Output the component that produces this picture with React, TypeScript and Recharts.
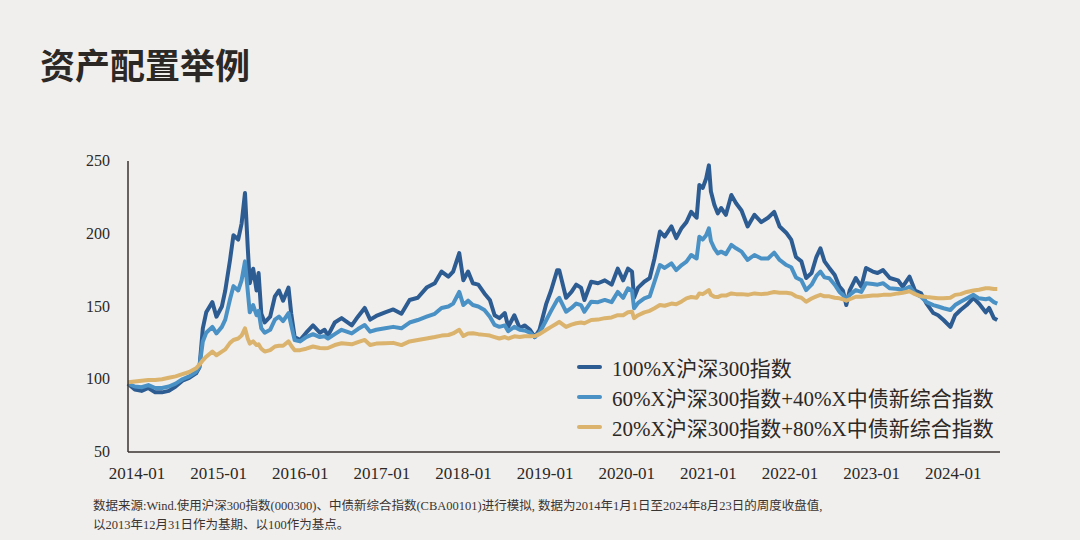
import React from 'react';
import { LineChart, Line, XAxis, YAxis, Legend } from 'recharts';

// months since 2014-01 (weekly closes, sampled at turning points)
const months = [
  0, 1, 2, 3, 4, 5, 6, 7, 8, 9, 10, 10.5, 11, 11.5, 12.4, 13.0, 13.8, 14.3, 15.0, 15.5,
  16.2, 16.7, 17.2, 17.6, 17.9, 18.4, 18.9, 19.2, 19.6, 20.1, 20.9, 21.6, 22.2, 22.8, 23.6, 24.0,
  24.5, 25.3, 26.2, 27.2, 28.2, 28.9, 29.4, 30.4, 31.4, 32.9, 33.8, 34.8, 35.6, 36.5, 37.8, 39.0,
  40.2, 41.4, 42.6, 43.9, 45.1, 46.1, 47.1, 47.8, 48.7, 49.3, 50.0, 50.7, 51.5, 52.4, 53.2, 53.9,
  54.6, 55.4, 55.9, 56.8, 57.6, 58.3, 59.1, 59.8, 60.5, 61.5, 62.2, 63.1, 63.4, 64.4, 65.2, 65.9,
  66.6, 67.1, 68.1, 69.1, 70.1, 71.1, 72.0, 72.8, 73.5, 74.1, 74.4, 75.0, 75.9, 76.7, 77.4, 78.2,
  78.9, 79.9, 80.6, 81.4, 82.1, 82.8, 83.6, 84.0, 84.5, 85.0, 85.4, 85.7, 86.2, 86.7, 87.2, 87.9,
  88.7, 89.4, 90.2, 91.1, 92.1, 93.1, 94.1, 95.0, 95.8, 96.8, 97.5, 98.2, 99.0, 99.7, 100.5, 101.2,
  101.8, 102.4, 103.1, 103.9, 104.6, 105.1, 105.6, 106.1, 107.0, 107.8, 108.5, 109.5, 110.2, 111.0, 112.0, 113.2,
  113.9, 114.9, 115.7, 116.6, 117.4, 118.4, 119.1, 119.9, 120.9, 121.6, 122.4, 123.3, 124.3, 125.1, 126.1, 126.6,
  127.3, 127.8,
];

const eq100 = [
  97, 93, 92, 94, 91, 91, 92, 95, 99, 101, 104, 108, 135, 146, 153, 143, 150, 161, 182, 199,
  196, 207, 228, 191, 166, 176, 161, 173, 145, 139, 143, 157, 161, 154, 163, 145,
  129, 127, 132, 137, 132, 134, 130, 139, 142, 137, 143, 149, 141, 143.5, 146, 148,
  145, 154.5, 156, 163, 166, 174, 170.5, 174, 186.7, 168, 174, 166, 165, 159, 154.5, 144,
  142, 145.5, 136, 144, 135, 137, 134, 129, 134, 152, 161, 175, 175, 156, 160, 165,
  163, 154.5, 167, 166, 168, 165, 176, 168, 176, 174, 156, 163, 167, 169.5, 183, 201.5,
  198, 205, 197, 204, 208, 215, 211, 233.5, 231.5, 238, 247, 229, 220, 214, 217.7, 213,
  226.6, 221, 216, 205, 213, 208, 211, 215, 205, 200.5, 196, 184, 181, 169.6, 173, 184,
  190, 181, 176.5, 171.6, 163.6, 161, 151, 161, 169.6, 163.6, 176.5, 174, 173, 175, 169.6, 168,
  163.6, 170.5, 161, 159, 152, 145.5, 144, 140.7, 136, 144, 147.6, 151, 156, 152, 146, 149,
  142, 140.7,
];

const mix60 = [
  97, 95, 94.5, 96, 94, 94, 95, 97, 100, 102, 105, 108.5, 126, 132, 136, 131.5, 136, 141, 155, 164,
  161, 168, 181, 161, 146, 151, 144, 147, 135, 132, 134, 141, 143, 140, 145.5, 137,
  127, 126, 129, 131, 129, 129.5, 128, 131, 134, 131.5, 134.5, 137.3, 132.7, 134, 135, 136,
  135, 139, 140.7, 143, 145, 149, 150, 152, 160, 151, 154, 151, 150, 147.6, 143, 137.3,
  136, 137, 133, 136, 134, 133.5, 132, 129, 132, 140.7, 147, 154.5, 156, 146.4, 149, 152,
  151, 146.4, 153.3, 153, 154.5, 153, 160, 156, 162.5, 161, 148.8, 152.5, 155.6, 157, 167, 178.5,
  176.5, 179.7, 175, 178.5, 180.8, 185.4, 183, 198, 196, 199, 203.7, 195, 190, 186.5, 187.7, 186,
  192.3, 190, 187.7, 182, 185.4, 183, 183, 187, 182, 178.5, 177, 170, 168, 161.3, 165, 171,
  174, 170, 169.4, 165, 160, 158, 154.5, 158, 161.3, 160, 166, 165.5, 165, 166, 162.5, 162,
  161.3, 163.6, 159, 156.7, 153, 151, 150, 148.8, 147.6, 151, 153.3, 155.5, 158, 155.6, 155, 155.6,
  153, 152,
];

const mix20 = [
  98, 98.5, 99, 99.5, 99.5, 100, 101, 102, 103.5, 105, 107.5, 110, 113, 115.5, 119, 116.5, 119, 120.5, 125, 127,
  128, 130, 135, 128, 124.5, 126, 123.5, 124, 121, 119, 120, 122.5, 123, 123, 126, 123,
  120, 120, 121, 122.5, 121.5, 121.3, 121.5, 123.5, 124.7, 124, 125.5, 127, 123.5, 124.5, 124.7, 125,
  123.5, 126, 127, 128, 129, 130, 130.4, 131.5, 134, 129.7, 131.5, 131.6, 131, 130.5, 130, 129,
  128, 129, 128, 129.5, 129, 129.5, 129.5, 129.7, 131, 134, 136, 138.5, 139.5, 136, 137.5, 138.5,
  139, 138.5, 140.7, 141, 142, 142.5, 144, 144, 146, 146.4, 142, 144, 146, 147, 148.8, 151,
  150.5, 152, 151.5, 153.5, 155.6, 156.5, 156, 159, 158.5, 160, 161.3, 158, 156.7, 156.5, 157.5, 157.5,
  159, 158.5, 158.5, 158, 159, 158.5, 159, 160, 159.5, 159.5, 159, 157, 156, 153.3, 155.5, 157,
  158, 157, 157, 156, 155.6, 155, 154, 155, 156.7, 156.7, 157, 157.5, 157.5, 158, 158, 159,
  159.5, 160.5, 158.5, 157, 156.5, 156, 155.6, 155.6, 156, 158, 158.5, 160, 161, 161.5, 162.5, 162.5,
  162, 162,
];

const seriesNames = [
  '100%X沪深300指数',
  '60%X沪深300指数+40%X中债新综合指数',
  '20%X沪深300指数+80%X中债新综合指数',
];
const seriesColors = ['#2d5c92', '#4a91c5', '#dbb36c'];

const xTicks = [0, 12, 24, 36, 48, 60, 72, 84, 96, 108, 120];
const yTicks = [50, 100, 150, 200, 250];

const data = months.map((m, i) => ({ m, a: eq100[i], b: mix60[i], c: mix20[i] }));

const serif = '"Liberation Serif", "Noto Sans CJK SC", serif';
const ink = '#2c2825';

const XTick = (props: any) => {
  const { x, y, payload } = props;
  const label = `${2014 + payload.value / 12}-01`;
  return (
    <text x={x + 9} y={y + 25} textAnchor="middle" fill={ink} fontSize={17} fontFamily={serif}>
      {label}
    </text>
  );
};

const YTick = (props: any) => {
  const { x, y, payload } = props;
  return (
    <text x={x - 16} y={y + 5} textAnchor="end" fill={ink} fontSize={16} fontFamily={serif}>
      {payload.value}
    </text>
  );
};

const renderLegend = () => (
  <div style={{ fontFamily: serif, fontSize: 21, color: ink }}>
    {seriesNames.map((name, i) => (
      <div key={name} style={{ display: 'flex', alignItems: 'center', height: 30 }}>
        <div style={{ width: 25, height: 4, borderRadius: 2, background: seriesColors[i], marginRight: 10 }} />
        <span>{name}</span>
      </div>
    ))}
  </div>
);

export default function App() {
  return (
    <div style={{ position: 'absolute', left: 0, top: 0, width: 1080, height: 540, background: '#f0efed', overflow: 'hidden' }}>
      <div style={{ position: 'absolute', left: 40, top: 44, fontSize: 35, lineHeight: '40px', fontWeight: 700, color: ink, fontFamily: '"Noto Sans CJK SC", sans-serif' }}>
        资产配置举例
      </div>
      <LineChart width={1080} height={540} data={data} margin={{ top: 161, right: 80, bottom: 58, left: 88 }}>
        <XAxis
          dataKey="m"
          type="number"
          domain={[0, 128.2]}
          ticks={xTicks}
          tick={<XTick />}
          tickLine={false}
          tickSize={0}
          height={30}
          stroke="#3a3330"
          strokeWidth={1.5}
          allowDecimals
        />
        <YAxis
          domain={[50, 250]}
          ticks={yTicks}
          tick={<YTick />}
          tickLine={false}
          tickSize={0}
          width={40}
          stroke="#3a3330"
          strokeWidth={1.5}
        />
        <Legend
          layout="vertical"
          align="center"
          verticalAlign="middle"
          content={renderLegend}
          wrapperStyle={{ left: 577, top: 352, width: 460, height: 92 }}
        />
        <Line dataKey="a" name={seriesNames[0]} stroke={seriesColors[0]} strokeWidth={4} dot={false} isAnimationActive={false} strokeLinejoin="round" />
        <Line dataKey="b" name={seriesNames[1]} stroke={seriesColors[1]} strokeWidth={4} dot={false} isAnimationActive={false} strokeLinejoin="round" />
        <Line dataKey="c" name={seriesNames[2]} stroke={seriesColors[2]} strokeWidth={4} dot={false} isAnimationActive={false} strokeLinejoin="round" />
      </LineChart>
      <div style={{ position: 'absolute', left: 93, top: 497, fontSize: 12.5, lineHeight: '19px', color: '#3a3431', fontFamily: serif }}>
        <div>数据来源:Wind.使用沪深300指数(000300)、中债新综合指数(CBA00101)进行模拟, 数据为2014年1月1日至2024年8月23日的周度收盘值,</div>
        <div>以2013年12月31日作为基期、以100作为基点。</div>
      </div>
    </div>
  );
}
